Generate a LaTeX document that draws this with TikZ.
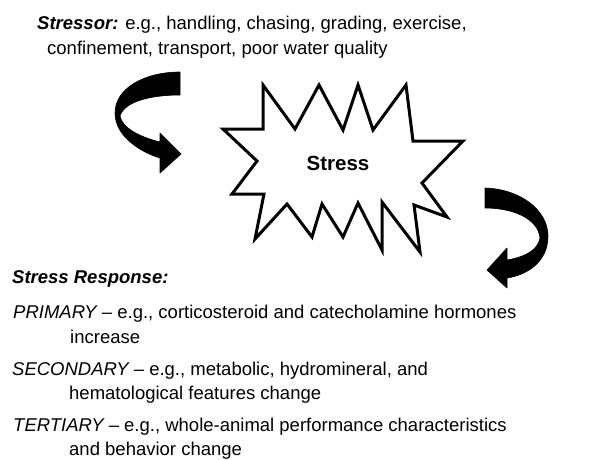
\documentclass[tikz,border=0pt]{standalone}
\usepackage{fontspec}
\setmainfont{Liberation Sans}
\begin{document}
\begin{tikzpicture}[x=1pt,y=-1pt,
  txt/.style={anchor=base west, inner sep=0pt, font=\fontsize{18.5}{25}\selectfont},
  bigarrow/.style={fill=black, draw=black, line width=0.6pt, line join=round},
  starline/.style={draw=black, line width=3pt, line join=miter, miter limit=20, fill=white}]
\useasboundingbox (0,0) rectangle (594,460);

% star burst
\draw[starline] (264,194) -- (255,239) -- (287,204) -- (312,237) -- (322,204)
  -- (343,237) -- (358,203) -- (382,250) -- (382,202) -- (420,252) -- (414,205)
  -- (447,217) -- (422,183) -- (463,141) -- (413,141) -- (406,85) -- (373,130)
  -- (358,85) -- (343,130) -- (319,85) -- (295,129) -- (263,85) -- (263,129)
  -- (223,129) -- (257,161) -- (232,194) -- cycle;
\node[anchor=base, inner sep=0pt, font=\bfseries\fontsize{20.5}{24}\selectfont] (stress) at (338,170) {Stress};

% left curved arrow
\coordinate (la1) at (180,72);
\coordinate (la2) at (115,113);
\coordinate (la3) at (160,158);
\coordinate (lhb) at (160,173);
\coordinate (ltip) at (181,154);
\coordinate (lht) at (160,133);
\coordinate (la4) at (160,142);
\coordinate (la5) at (120,116);
\coordinate (la6) at (180,95);
\fill[bigarrow] (la1) .. controls (145,72) and (115,88) .. (la2)
  .. controls (115,136) and (140,152) .. (la3) -- (lhb) -- (ltip) -- (lht) -- (la4)
  .. controls (140,137) and (122,128) .. (la5)
  .. controls (125,100) and (155,95) .. (la6) -- cycle;

% right curved arrow
\coordinate (ra1) at (485,188);
\coordinate (ra2) at (548,236);
\coordinate (ra3) at (507,278);
\coordinate (rhb) at (507,288);
\coordinate (rtip) at (487,270);
\coordinate (rht) at (507,248);
\coordinate (ra4) at (507,260);
\coordinate (ra5) at (540,238);
\coordinate (ra6) at (485,208);
\fill[bigarrow] (ra1) .. controls (520,189) and (548,210) .. (ra2)
  .. controls (548,262) and (527,275) .. (ra3) -- (rhb) -- (rtip) -- (rht) -- (ra4)
  .. controls (525,257) and (538,250) .. (ra5)
  .. controls (538,218) and (512,208) .. (ra6) -- cycle;

% texts
\node[txt] (stressor1) at (37,30) {{\bfseries\itshape Stressor:} e.g., handling, chasing, grading, exercise,};
\node[txt] (stressor2) at (47,55) {confinement, transport, poor water quality};
\node[txt] (resp) at (12,283) {{\bfseries\itshape Stress Response:}};
\node[txt] (prim1) at (13,318) {{\itshape PRIMARY} – e.g., corticosteroid and catecholamine hormones};
\node[txt] (prim2) at (70,343) {increase};
\node[txt] (sec1) at (12,375) {{\itshape SECONDARY} – e.g., metabolic, hydromineral, and};
\node[txt] (sec2) at (69,399) {hematological features change};
\node[txt] (ter1) at (13,431) {{\itshape TERTIARY} – e.g., whole-animal performance characteristics};
\node[txt] (ter2) at (69,455) {and behavior change};
\end{tikzpicture}
\end{document}
